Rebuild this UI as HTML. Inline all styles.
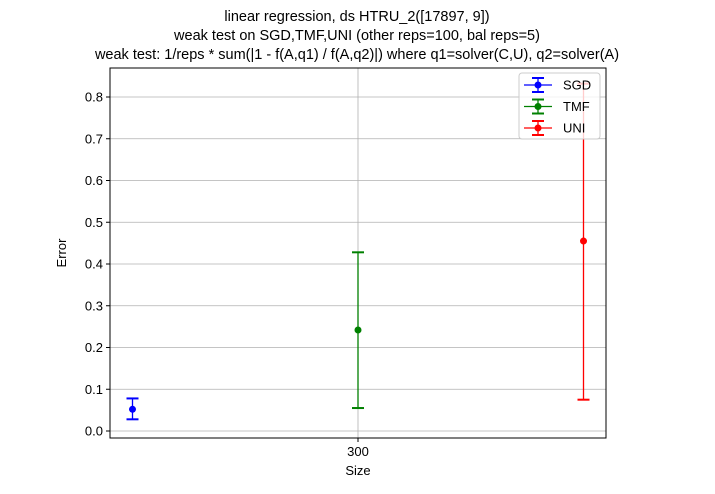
<!DOCTYPE html>
<html><head><meta charset="utf-8"><style>
body{margin:0;background:#fff;font-family:"Liberation Sans","DejaVu Sans",sans-serif}
</style></head><body>
<svg id="c" width="715" height="489" xmlns="http://www.w3.org/2000/svg" font-family="Liberation Sans, DejaVu Sans, sans-serif">
<text x="357" y="21" text-anchor="middle" font-size="14.5">linear regression, ds HTRU_2([17897, 9])</text>
<text x="357" y="40" text-anchor="middle" font-size="14.5">weak test on SGD,TMF,UNI (other reps=100, bal reps=5)</text>
<text x="357" y="59" text-anchor="middle" font-size="14.5">weak test: 1/reps * sum(|1 - f(A,q1) / f(A,q2)|) where q1=solver(C,U), q2=solver(A)</text>
<g id="grid"></g>
<g id="marks"></g>
<rect x="110" y="68" width="496" height="370" fill="none" stroke="#000" stroke-width="1"/>
<text x="66" y="253" text-anchor="middle" font-size="13" transform="rotate(-90 66 253)">Error</text>
<text x="358" y="475" text-anchor="middle" font-size="13">Size</text>
<g>
<rect x="519" y="73" width="81" height="66" fill="#fff" fill-opacity="0.8" stroke="#ccc" rx="3"/>
<g id="leg"></g>
</g>
</svg>
<script>
const series = ["SGD","TMF","UNI"];
const colors = ["blue","green","red"];
const means = [0.052,0.242,0.455];
const lows = [0.028,0.055,0.075];
const highs = [0.078,0.428,0.832];
const offsets = [-1,0,1];
const yTicks = [0,0.1,0.2,0.3,0.4,0.5,0.6,0.7,0.8];
const xTickLabels = ["300"];
const NS="http://www.w3.org/2000/svg";
const y = v => 431 - v*417.5;
const x = o => 358 + o*225.5;
function mk(t,a,p){const e=document.createElementNS(NS,t);for(const k in a)e.setAttribute(k,a[k]);p.appendChild(e);return e;}
const g=document.getElementById('grid'), m=document.getElementById('marks'), lg=document.getElementById('leg');
yTicks.forEach(v=>{
  const l=mk('line',{x1:110,x2:606,y1:y(v),y2:y(v),stroke:'#b0b0b0','stroke-width':0.8},g);
  
  
  mk('line',{x1:106,x2:110,y1:y(v),y2:y(v),stroke:'#000'},g);
  const t=mk('text',{x:103,y:y(v)+4.5,'text-anchor':'end','font-size':13},g);
  t.textContent=v.toFixed(1);
  
  
});
xTickLabels.forEach(s=>{
  mk('line',{x1:x(0),x2:x(0),y1:68,y2:438,stroke:'#b0b0b0','stroke-width':0.8},g);
  mk('line',{x1:x(0),x2:x(0),y1:438,y2:442,stroke:'#000'},g);
  const t=mk('text',{x:x(0),y:456,'text-anchor':'middle','font-size':13},g);
  t.textContent=s;
  
  
});
series.forEach((s,i)=>{
  const c=colors[i], xx=x(offsets[i]);
  const grp=mk('g',{},m);
  
  
  mk('line',{x1:xx,x2:xx,y1:y(lows[i]),y2:y(highs[i]),stroke:c,'stroke-width':1.3},grp);
  mk('line',{x1:xx-6,x2:xx+6,y1:y(lows[i]),y2:y(lows[i]),stroke:c,'stroke-width':2},grp);
  mk('line',{x1:xx-6,x2:xx+6,y1:y(highs[i]),y2:y(highs[i]),stroke:c,'stroke-width':2},grp);
  mk('circle',{cx:xx,cy:y(means[i]),r:3.5,fill:c},grp);
  const ly=85+i*21.5;
  const le=mk('g',{},lg);
  
  
  mk('line',{x1:524,x2:552,y1:ly,y2:ly,stroke:c,'stroke-width':1.3},le);
  mk('line',{x1:538,x2:538,y1:ly-7,y2:ly+7,stroke:c,'stroke-width':1.3},le);
  mk('line',{x1:532,x2:544,y1:ly-7,y2:ly-7,stroke:c,'stroke-width':2},le);
  mk('line',{x1:532,x2:544,y1:ly+7,y2:ly+7,stroke:c,'stroke-width':2},le);
  mk('circle',{cx:538,cy:ly,r:3.5,fill:c},le);
  const t=mk('text',{x:563,y:ly+4.5,'font-size':13},le);
  t.textContent=s;
});
</script>
</body></html>
